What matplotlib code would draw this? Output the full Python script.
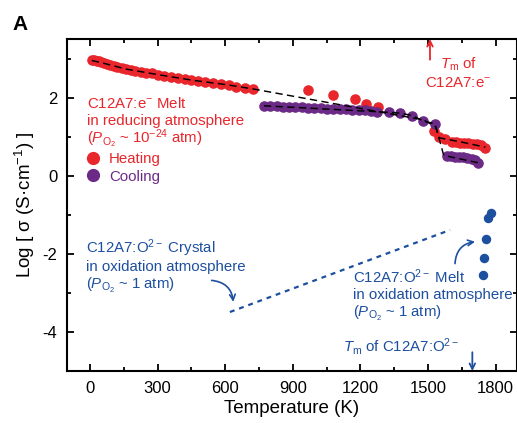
import matplotlib
matplotlib.use("Agg")
import matplotlib.pyplot as plt
from matplotlib.lines import Line2D
from matplotlib.ticker import MultipleLocator

# ---- data ----
heat_T = [10, 20, 30, 40, 50, 62, 75, 90, 105, 120, 140, 160, 180, 200, 225, 250, 275, 300,
          330, 360, 390, 420, 450, 480, 510, 545, 580, 615, 650, 690, 725,
          969, 1077, 1175, 1225, 1280,
          1527, 1551, 1576, 1605, 1625, 1642, 1660, 1679, 1698, 1716, 1735, 1753]
heat_v = [2.95, 2.95, 2.94, 2.93, 2.91, 2.88, 2.86, 2.83, 2.80, 2.78, 2.76, 2.73, 2.71, 2.69,
          2.66, 2.64, 2.62, 2.59, 2.56, 2.53, 2.51, 2.48, 2.45, 2.43, 2.40, 2.37, 2.34, 2.31,
          2.28, 2.25, 2.22,
          2.20, 2.07, 1.97, 1.84, 1.77,
          1.15, 0.98, 0.93, 0.87, 0.86, 0.85, 0.84, 0.83, 0.82, 0.80, 0.78, 0.72]

cool_T = [772, 800, 828, 856, 884, 912, 940, 968, 996, 1024, 1052, 1080, 1108, 1136, 1164,
          1192, 1220, 1246, 1272,
          1329, 1376, 1428, 1477, 1531,
          1583, 1602, 1620, 1638, 1657, 1675, 1694, 1710, 1724]
cool_v = [1.79, 1.78, 1.78, 1.77, 1.76, 1.76, 1.75, 1.74, 1.73, 1.73, 1.72, 1.71, 1.70, 1.70,
          1.69, 1.68, 1.67, 1.66, 1.64,
          1.62, 1.60, 1.54, 1.39, 1.33,
          0.51, 0.50, 0.49, 0.48, 0.47, 0.45, 0.43, 0.39, 0.33]

oxmelt_T = [1780, 1768, 1756, 1750, 1743]
oxmelt_v = [-0.95, -1.09, -1.62, -2.10, -2.55]

# guide lines
heatfit_T = [8, 60, 160, 310, 460, 607, 725, 1480, 1535, 1550, 1650, 1755]
heatfit_v = [2.95, 2.88, 2.73, 2.58, 2.44, 2.33, 2.22, 1.43, 1.25, 0.97, 0.86, 0.73]
coolfit_T = [772, 1272, 1330, 1380, 1430, 1480, 1530, 1552, 1570, 1724]
coolfit_v = [1.79, 1.64, 1.62, 1.60, 1.54, 1.40, 1.33, 0.90, 0.52, 0.33]
crystal_T = [621, 1598]
crystal_v = [-3.49, -1.39]

red = "#E8262C"
purple = "#6C2A87"
blue = "#1D4F9F"

plt.rcParams["font.family"] = "Liberation Sans"
plt.rcParams["mathtext.fontset"] = "custom"
plt.rcParams["mathtext.rm"] = "Liberation Sans"
plt.rcParams["mathtext.it"] = "Liberation Sans:italic"
plt.rcParams["axes.unicode_minus"] = False

fig = plt.figure(figsize=(5.17, 4.23), dpi=100)
ax = fig.add_axes([67 / 517, 52 / 423, 449.5 / 517, 332 / 423])

ax.plot(heat_T, heat_v, "o", color=red, ms=6.6, mec=red, zorder=2)
ax.plot(cool_T, cool_v, "o", color=purple, ms=6.6, mec=purple, zorder=2)
ax.plot(heatfit_T, heatfit_v, "--", color="black", lw=1.05, dashes=(5, 3), zorder=3)
ax.plot(coolfit_T, coolfit_v, "--", color="black", lw=1.05, dashes=(5, 3), zorder=3)
ax.plot(oxmelt_T, oxmelt_v, "o", color=blue, ms=5.8, zorder=2)
ax.plot(crystal_T, crystal_v, "--", color=blue, lw=1.6, dashes=(2.2, 2.2))

ax.set_xlim(-102, 1893)
ax.set_ylim(-5.0, 3.5)
ax.xaxis.set_major_locator(MultipleLocator(300))
ax.xaxis.set_minor_locator(MultipleLocator(150))
ax.yaxis.set_major_locator(MultipleLocator(2))
ax.yaxis.set_minor_locator(MultipleLocator(1))
ax.tick_params(which="both", direction="in", top=True, right=True, width=1.3)
ax.tick_params(which="major", length=5, labelsize=12, pad=7)
ax.tick_params(which="minor", length=3)
for s in ax.spines.values():
    s.set_linewidth(1.5)

ax.set_xlabel("Temperature (K)", fontsize=13.5, labelpad=3)
ax.set_ylabel("Log [ σ (S·cm$^{-1}$) ]", fontsize=13.5, labelpad=4)

fs = 10.8
# red labels
ax.text(-15, 1.86, r"C12A7:e$^{-}$ Melt", color=red, fontsize=fs, va="center")
ax.text(-15, 1.40, "in reducing atmosphere", color=red, fontsize=fs, va="center")
ax.text(-15, 0.94, r"($P_{\mathrm{O_2}}$ ~ 10$^{-24}$ atm)", color=red, fontsize=fs, va="center")
ax.text(1553, 2.84, r"$T_{\mathrm{m}}$ of", color=red, fontsize=fs, va="center")
ax.text(1487, 2.37, r"C12A7:e$^{-}$", color=red, fontsize=fs, va="center")
ax.annotate("", xy=(1509, 3.5), xytext=(1509, 2.97),
            arrowprops=dict(arrowstyle="->", color=red, lw=1.3, shrinkA=0, shrinkB=0))

# blue labels
ax.text(-18, -1.86, r"C12A7:O$^{2-}$ Crystal", color=blue, fontsize=fs, va="center")
ax.text(-18, -2.33, "in oxidation atmosphere", color=blue, fontsize=fs, va="center")
ax.text(-18, -2.80, r"($P_{\mathrm{O_2}}$ ~ 1 atm)", color=blue, fontsize=fs, va="center")
ax.text(1166, -2.59, r"C12A7:O$^{2-}$ Melt", color=blue, fontsize=fs, va="center")
ax.text(1166, -3.06, "in oxidation atmosphere", color=blue, fontsize=fs, va="center")
ax.text(1166, -3.52, r"($P_{\mathrm{O_2}}$ ~ 1 atm)", color=blue, fontsize=fs, va="center")
ax.text(1123, -4.38, r"$T_{\mathrm{m}}$ of C12A7:O$^{2-}$", color=blue, fontsize=fs, va="center")
ax.annotate("", xy=(1697, -5.0), xytext=(1697, -4.52),
            arrowprops=dict(arrowstyle="->", color=blue, lw=1.3, shrinkA=0, shrinkB=0))
ax.annotate("", xy=(636, -3.23), xytext=(540, -2.68),
            arrowprops=dict(arrowstyle="->", color=blue, lw=1.2, shrinkA=0, shrinkB=0,
                            connectionstyle="arc3,rad=-0.4"))
ax.annotate("", xy=(1709, -1.69), xytext=(1620, -2.25),
            arrowprops=dict(arrowstyle="->", color=blue, lw=1.2, shrinkA=0, shrinkB=0,
                            connectionstyle="arc3,rad=-0.4"))

# legend
handles = [Line2D([], [], ls="none", marker="o", color=red, ms=8.5),
           Line2D([], [], ls="none", marker="o", color=purple, ms=8.5)]
leg = ax.legend(handles, ["Heating", "Cooling"], loc="upper left", bbox_to_anchor=(0.042, 0.66),
                frameon=False, fontsize=fs, handlelength=1.0, handletextpad=0.55,
                labelspacing=0.25, borderpad=0, borderaxespad=0)
for t, c in zip(leg.get_texts(), [red, purple]):
    t.set_color(c)

fig.text(12 / 517, 1 - 25 / 423, "A", fontsize=15, fontweight="bold", va="center")

fig.savefig("out.png", dpi=100)
